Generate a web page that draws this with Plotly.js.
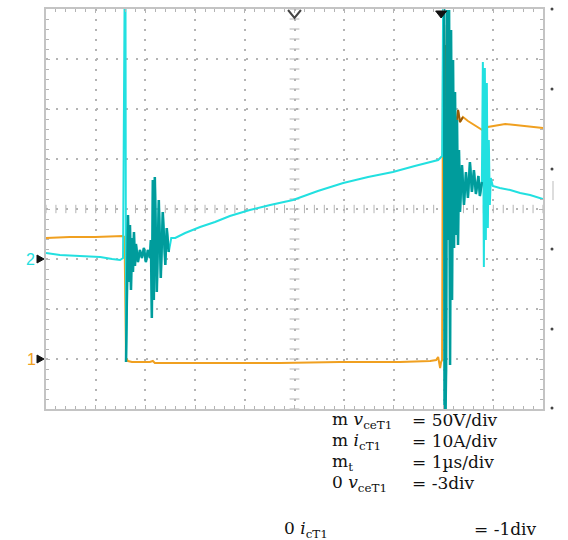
<!DOCTYPE html>
<html>
<head>
<meta charset="utf-8">
<script src="https://cdn.plot.ly/plotly-3.0.1.min.js"></script>
<style>html,body{margin:0;padding:0;background:#fff;}#chart{width:568px;height:540px;}</style>
</head>
<body>
<div id="chart"></div>
<script>
// ---- Data ----
// time in µs (1 µs/div), collector-emitter voltage in V (50 V/div, zero at -3 div)
var vTime = [0.00,0.48,0.99,1.39,1.55,1.58,1.60,1.61,1.65,1.73,1.89,2.09,2.15,2.19,2.70,3.50,4.71,5.92,7.12,7.73,7.85,7.89,7.93,7.95,7.97,7.99,8.01,8.03,8.05,8.07,8.09,8.11,8.13,8.15,8.17,8.19,8.21,8.25,8.29,8.33,8.39,8.49,8.61,8.73,8.81,8.89,9.03,9.24,9.44,9.64,9.84,10.00];
var vCE   = [121,122,122,123,123,122,59,1,-2,-3,-3,-3,-2,-4,-4,-4,-4,-3,-3,-2,-1,2,-9,-3,-1,329,334,219,314,229,289,224,264,231,259,227,254,232,249,237,242,238,234,230,228,232,233,235,234,233,232,231];
// collector current in A (10 A/div, zero at -1 div)
var iTime = [0.00,0.28,0.68,1.09,1.33,1.49,1.55,1.58,1.60,1.61,1.63,1.65,1.67,1.69,1.71,1.73,1.75,1.77,1.79,1.81,1.85,1.89,1.93,1.97,2.01,2.05,2.09,2.11,2.13,2.15,2.17,2.19,2.23,2.27,2.31,2.35,2.40,2.43,2.47,2.52,2.60,2.80,3.10,3.40,3.70,4.10,4.51,4.97,5.47,5.98,6.48,6.98,7.42,7.89,7.97,7.99,8.01,8.02,8.04,8.05,8.07,8.09,8.11,8.13,8.15,8.17,8.19,8.21,8.23,8.25,8.27,8.29,8.31,8.33,8.37,8.41,8.45,8.49,8.53,8.57,8.61,8.65,8.70,8.73,8.77,8.79,8.81,8.83,8.85,8.87,8.89,8.91,8.93,8.95,8.99,9.13,9.34,9.54,9.74,10.00];
var iC    = [1.2,0.8,0.6,0.4,0.0,-0.2,0.2,49.8,49.8,-20.6,-8.2,8.8,-4.6,6.8,-6.2,4.2,-2.6,5.4,-1.4,3.0,-0.6,1.8,0.2,2.2,-0.6,1.8,0.2,3.8,-11.8,15.8,-8.2,16.4,-6.6,11.8,-3.8,9.4,-1.2,6.2,1.4,4.2,4.2,5.2,6.4,7.4,8.6,9.8,10.8,11.8,13.6,15.2,16.4,17.4,18.6,19.8,20.6,49.8,49.8,-29.8,-29.8,-22.2,49.8,3.8,49.8,-21.2,45.8,-8.2,39.8,2.2,33.4,4.8,27.8,2.8,21.8,9.4,18.8,10.8,17.4,12.2,19.4,13.4,17.8,13.0,16.6,12.6,15.4,39.4,-1.6,38.2,3.8,35.2,6.2,23.8,10.8,16.2,14.6,14.2,13.8,13.2,12.8,12.0];
// dense (intensified) stretches of the traces, in µs
var vDense = [[7.99, 8.39]];
var iDense = [[1.61, 2.50], [7.99, 8.78]];
// scale legend text
var scaleNames  = ["m <i>v</i><sub>ceT1</sub>", "m <i>i</i><sub>cT1</sub>", "m<sub>t</sub>", "0 <i>v</i><sub>ceT1</sub>", "0 <i>i</i><sub>cT1</sub>"];
var scaleValues = ["= 50V/div", "= 10A/div", "= 1µs/div", "= -3div", "= -1div"];
var channelLabels = ["1", "2"];

// ---- Layout geometry (pixels) ----
var W = 568, H = 540, L = 46, R = 543, T = 9, B = 409;
function px2paperX(px){ return (px - L) / (R - L); }
function py2paperY(py){ return (B - py) / (B - T); }

function slice(tArr, yArr, a, b){
  var xs = [], ys = [];
  for (var k = 0; k < tArr.length; k++){ if (tArr[k] >= a && tArr[k] <= b){ xs.push(tArr[k]); ys.push(yArr[k]); } }
  return {x: xs, y: ys};
}

var CYAN = '#22e0e0', TEAL = '#009c9c', ORANGE = '#f0a020', BROWN = '#9a5a08', GRID = '#b4b4b4';
var traces = [];

// centre-line minor ticks (scope graticule)
var cx = [], cy = [], vx = [], vy = [];
for (var k = 0; k <= 50; k++){ cx.push(k * 0.2); cy.push(150); }
for (var k = 0; k <= 40; k++){ vx.push(5); vy.push(-50 + k * 10); }
traces.push({x: cx, y: cy, mode: 'markers', type: 'scatter', hoverinfo: 'skip',
  marker: {symbol: 'line-ns-open', size: 6, color: GRID, line: {width: 1, color: GRID}}});
traces.push({x: vx, y: vy, mode: 'markers', type: 'scatter', hoverinfo: 'skip',
  marker: {symbol: 'line-ew-open', size: 7, color: GRID, line: {width: 1, color: GRID}}});

// current trace (channel 2)
traces.push({x: iTime, y: iC, yaxis: 'y2', mode: 'lines', type: 'scatter', line: {color: CYAN, width: 2}});
iDense.forEach(function(r){
  var s = slice(iTime, iC, r[0], r[1]);
  traces.push({x: s.x, y: s.y, yaxis: 'y2', mode: 'lines', type: 'scatter', line: {color: TEAL, width: 2.5}});
});
// voltage trace (channel 1)
traces.push({x: vTime, y: vCE, mode: 'lines', type: 'scatter', line: {color: ORANGE, width: 2}});
vDense.forEach(function(r){
  var s = slice(vTime, vCE, r[0], r[1]);
  traces.push({x: s.x, y: s.y, mode: 'lines', type: 'scatter', line: {color: BROWN, width: 2}});
});

var annotations = [];
// channel ground labels: channel 1 at 0 V, channel 2 at 0 A
annotations.push({xref: 'paper', yref: 'y', x: px2paperX(31), y: 0, text: channelLabels[0], showarrow: false,
  xanchor: 'center', yanchor: 'middle', font: {family: 'Liberation Sans, Arial', size: 16, color: ORANGE}});
annotations.push({xref: 'paper', yref: 'y2', x: px2paperX(30), y: 0, text: channelLabels[1], showarrow: false,
  xanchor: 'center', yanchor: 'middle', font: {family: 'Liberation Sans, Arial', size: 16, color: CYAN}});

var rowY = [420, 441, 462, 483, 529];
var nameX = [330, 330, 330, 330, 282];
var valX = [410, 410, 410, 410, 472];
var TXT = {family: 'DejaVu Serif, Liberation Serif, serif', size: 17, color: '#111'};
for (var r = 0; r < scaleNames.length; r++){
  annotations.push({xref: 'paper', yref: 'paper', x: px2paperX(nameX[r]), y: py2paperY(rowY[r]), text: scaleNames[r],
    showarrow: false, xanchor: 'left', yanchor: 'middle', font: TXT});
  annotations.push({xref: 'paper', yref: 'paper', x: px2paperX(valX[r]), y: py2paperY(rowY[r]), text: scaleValues[r],
    showarrow: false, xanchor: 'left', yanchor: 'middle', font: TXT});
}

function triRight(pxTip, pyC){
  var x0 = px2paperX(pxTip - 7), x1 = px2paperX(pxTip);
  var y0 = py2paperY(pyC - 4), y1 = py2paperY(pyC + 4), ym = py2paperY(pyC);
  return {type: 'path', xref: 'paper', yref: 'paper', path: 'M ' + x0 + ',' + y0 + ' L ' + x1 + ',' + ym + ' L ' + x0 + ',' + y1 + ' Z',
    fillcolor: '#111', line: {color: '#111', width: 1}};
}
function dot(pxC, pyC){
  return {type: 'circle', xref: 'paper', yref: 'paper', x0: px2paperX(pxC - 1.5), x1: px2paperX(pxC + 1.5),
    y0: py2paperY(pyC + 1.5), y1: py2paperY(pyC - 1.5), fillcolor: '#444', line: {width: 0}};
}
var shapes = [
  // trigger position chevron
  {type: 'path', xref: 'x', yref: 'y', path: 'M 4.87,349 L 5,341 L 5.13,349', line: {color: '#444', width: 2}},
  // trigger point filled triangle
  {type: 'path', xref: 'x', yref: 'y', path: 'M 7.84,348 L 8.06,348 L 7.95,341 Z', fillcolor: '#111', line: {color: '#111', width: 1}},
  // small bracket on the right edge
  {type: 'line', xref: 'paper', yref: 'paper', x0: px2paperX(553), x1: px2paperX(553), y0: py2paperY(181), y1: py2paperY(200), line: {color: '#bbbbbb', width: 1}},
  triRight(44, 359), triRight(44, 259)
];
[9, 89, 169, 249, 329, 408].forEach(function(py){ shapes.push(dot(552, py)); });

var axisCommon = {
  showticklabels: false, zeroline: false, showline: true, mirror: 'ticks',
  linecolor: '#c4c4c4', linewidth: 2, showgrid: true, gridcolor: GRID, gridwidth: 2, griddash: '2px,8px',
  ticks: 'inside', ticklen: 4, tickcolor: GRID, tickwidth: 1
};
var layout = {
  width: W, height: H, margin: {l: L, r: W - R, t: T, b: H - B, pad: 0},
  paper_bgcolor: '#fff', plot_bgcolor: '#fff', showlegend: false, hovermode: false,
  xaxis: Object.assign({}, axisCommon, {range: [0, 10], tick0: 0, dtick: 1,
    minor: {dtick: 0.2, ticks: 'inside', ticklen: 3, tickcolor: GRID, showgrid: false}}),
  yaxis: Object.assign({}, axisCommon, {range: [-50, 350], tick0: -50, dtick: 50,
    minor: {dtick: 10, ticks: 'inside', ticklen: 3, tickcolor: GRID, showgrid: false}}),
  yaxis2: {range: [-30, 50], overlaying: 'y', visible: false, showgrid: false, zeroline: false},
  annotations: annotations, shapes: shapes
};
Plotly.newPlot('chart', traces, layout, {staticPlot: true, displayModeBar: false});
</script>
</body>
</html>
